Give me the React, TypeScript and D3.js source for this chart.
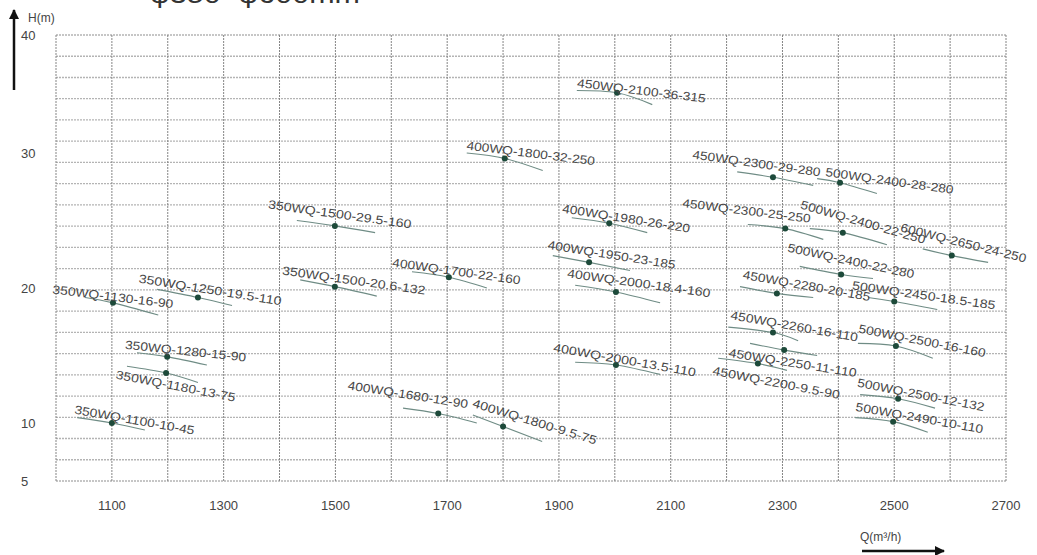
import React from "react";
import * as d3 from "d3";

// Pump models (label text)
const models = [
  "450WQ-2100-36-315", "400WQ-1800-32-250", "450WQ-2300-29-280", "500WQ-2400-28-280",
  "350WQ-1500-29.5-160", "400WQ-1980-26-220", "450WQ-2300-25-250", "500WQ-2400-22-250",
  "600WQ-2650-24-250", "400WQ-1950-23-185", "500WQ-2400-22-280", "400WQ-1700-22-160",
  "350WQ-1250-19.5-110", "350WQ-1500-20.6-132", "350WQ-1130-16-90", "400WQ-2000-18.4-160",
  "450WQ-2280-20-185", "500WQ-2450-18.5-185", "450WQ-2260-16-110", "500WQ-2500-16-160",
  "350WQ-1280-15-90", "400WQ-2000-13.5-110", "450WQ-2250-11-110", "450WQ-2200-9.5-90",
  "350WQ-1180-13-75", "500WQ-2500-12-132", "400WQ-1680-12-90", "400WQ-1800-9.5-75",
  "350WQ-1100-10-45", "500WQ-2490-10-110",
];

// Duty point (flow Q m3/h, head H m) as drawn
const dutyQ = [2004, 1803, 2283, 2403, 1499, 1990, 2305, 2408, 2603, 1954, 2405, 1703, 1254, 1499, 1102, 2002,
  2290, 2500, 2283, 2503, 1199, 2002, 2303, 2256, 1197, 2507, 1684, 1800, 1100, 2498];
const dutyH = [35.1, 29.6, 28.2, 27.8, 24.6, 24.8, 24.4, 24.1, 22.4, 21.9, 21.0, 20.8, 19.3, 20.1, 18.9, 19.7,
  19.6, 19.0, 16.7, 15.7, 14.9, 14.3, 15.4, 14.4, 13.7, 11.8, 10.7, 9.7, 10.0, 10.1];

// Curve segment start / end (Q, H)
const curveQ0 = [1932, 1735, 2219, 2362, 1431, 1923, 2238, 2349, 2551, 1889, 2331, 1637, 1181, 1437, 1052, 1929,
  2224, 2453, 2203, 2435, 1145, 1929, 2242, 2185, 1127, 2439, 1621, 1746, 1038, 2430];
const curveH0 = [35.3, 30.0, 28.6, 28.1, 25.0, 25.2, 24.7, 24.4, 22.9, 22.4, 21.6, 21.2, 19.9, 20.6, 19.3, 20.2,
  20.1, 19.3, 17.1, 15.9, 15.2, 14.5, 15.9, 14.8, 14.2, 12.1, 11.1, 10.6, 10.4, 10.4];
const curveQ1 = [2067, 1871, 2355, 2469, 1571, 2058, 2373, 2487, 2668, 2027, 2462, 1771, 1315, 1574, 1183, 2081,
  2355, 2577, 2328, 2569, 1270, 2081, 2362, 2308, 1254, 2573, 1753, 1870, 1159, 2560];
const curveH1 = [34.1, 28.7, 27.6, 27.0, 24.1, 24.1, 23.6, 23.2, 21.9, 21.3, 20.7, 20.0, 18.7, 19.4, 18.0, 18.9,
  19.3, 18.4, 16.1, 14.8, 14.3, 13.6, 15.0, 13.9, 13.0, 11.1, 10.0, 8.4, 9.4, 9.2];

// Label anchor (Q, H) and tilt in degrees
const labelQ = [1932, 1734, 2138, 2376, 1379, 1905, 2120, 2331, 2510, 1879, 2308, 1601, 1147, 1404, 993, 1914,
  2228, 2424, 2206, 2435, 1123, 1889, 2203, 2174, 1106, 2433, 1521, 1744, 1032, 2430];
const labelH = [35.6, 30.3, 29.6, 28.3, 25.9, 25.6, 26.0, 25.9, 24.2, 22.9, 22.7, 21.6, 20.4, 21.0, 19.6, 20.8,
  20.7, 19.9, 17.7, 16.7, 15.5, 15.3, 14.9, 13.6, 13.3, 12.7, 12.5, 11.2, 10.7, 10.9];
const labelTilt = [7, 7, 8, 8, 8, 9, 7, 16, 14, 9, 12, 8, 9, 8, 7, 8, 10, 8, 10, 11, 6, 10, 9, 11, 11, 11, 9, 17, 10, 10];

const xTicks = [1100, 1300, 1500, 1700, 1900, 2100, 2300, 2500, 2700];
const yTicks = [40, 30, 20, 10, 5];
const xGrid = d3.range(1000, 2701, 100);
const hGridCount = 21;

const W = 1037;
const HH = 555;
const FONT = "'Liberation Sans', Arial, sans-serif";

export default function App() {
  const x = d3.scaleLinear().domain([1000, 2700]).range([56, 1006]);
  const y = d3.scaleLinear().domain([5, 10, 20, 30, 40]).range([481, 423, 288, 153, 35]);
  const g = d3.scaleLinear().domain([0, hGridCount]).range([35, 481]);
  const line = d3
    .line<[number, number]>()
    .x((d) => x(d[0]))
    .y((d) => y(d[1]))
    .curve(d3.curveNatural);

  return (
    <svg
      width={W}
      height={HH}
      style={{ position: "absolute", left: 0, top: 0, background: "#fff" }}
      fontFamily={FONT}
    >
      <defs>
        <marker id="ah" viewBox="0 0 10 10" refX="9" refY="5" markerWidth="4" markerHeight="4" orient="auto">
          <path d="M0,0 L10,5 L0,10 z" fill="#111" />
        </marker>
      </defs>
      {/* title, cut off at the top edge as in the reference */}
      <text x={150} y={3} fontSize={26} fill="#333" textLength={210} lengthAdjust="spacingAndGlyphs">
        φ350~φ600mm
      </text>

      {/* horizontal grid */}
      {d3.range(hGridCount + 1).map((i) => (
        <line key={"h" + i} x1={56} x2={1006} y1={g(i)} y2={g(i)} stroke="#b4b4b4" strokeWidth={1.3} strokeDasharray="2,1" />
      ))}
      {/* vertical grid */}
      {xGrid.map((v) => (
        <line key={"v" + v} x1={x(v)} x2={x(v)} y1={35} y2={481} stroke="#858585" strokeWidth={1} strokeDasharray="2,1" />
      ))}

      {/* tick labels */}
      {xTicks.map((v) => (
        <text key={"xt" + v} x={x(v)} y={510} textAnchor="middle" fontSize={13} fill="#444">
          {v}
        </text>
      ))}
      {yTicks.map((v) => (
        <text key={"yt" + v} x={21} y={y(v) + 5} fontSize={13} fill="#444">
          {v}
        </text>
      ))}

      {/* axis arrows */}
      <line x1={14} y1={90} x2={14} y2={10} stroke="#111" strokeWidth={2.5} markerEnd="url(#ah)" />
      <text x={28} y={22} fontSize={12} fill="#444">H(m)</text>
      <text x={860} y={541} fontSize={12} fill="#444">Q(m³/h)</text>
      <line x1={862} y1={551} x2={944} y2={551} stroke="#111" strokeWidth={2.5} markerEnd="url(#ah)" />

      {/* pump curves */}
      {models.map((m, i) => (
        <path
          key={"c" + i}
          d={line([
            [curveQ0[i], curveH0[i]],
            [dutyQ[i], dutyH[i]],
            [curveQ1[i], curveH1[i]],
          ]) || ""}
          fill="none"
          stroke="#6f8c85"
          strokeWidth={1.1}
        />
      ))}
      {models.map((m, i) => (
        <circle key={"d" + i} cx={x(dutyQ[i])} cy={y(dutyH[i])} r={3} fill="#1d4a3a" />
      ))}
      {models.map((m, i) => (
        <text
          key={"l" + i}
          transform={`translate(${x(labelQ[i])},${y(labelH[i])}) rotate(${labelTilt[i]})`}
          fontSize={12}
          fill="#474747"
          textLength={m.length * 7.6}
          lengthAdjust="spacingAndGlyphs"
        >
          {m}
        </text>
      ))}
    </svg>
  );
}
